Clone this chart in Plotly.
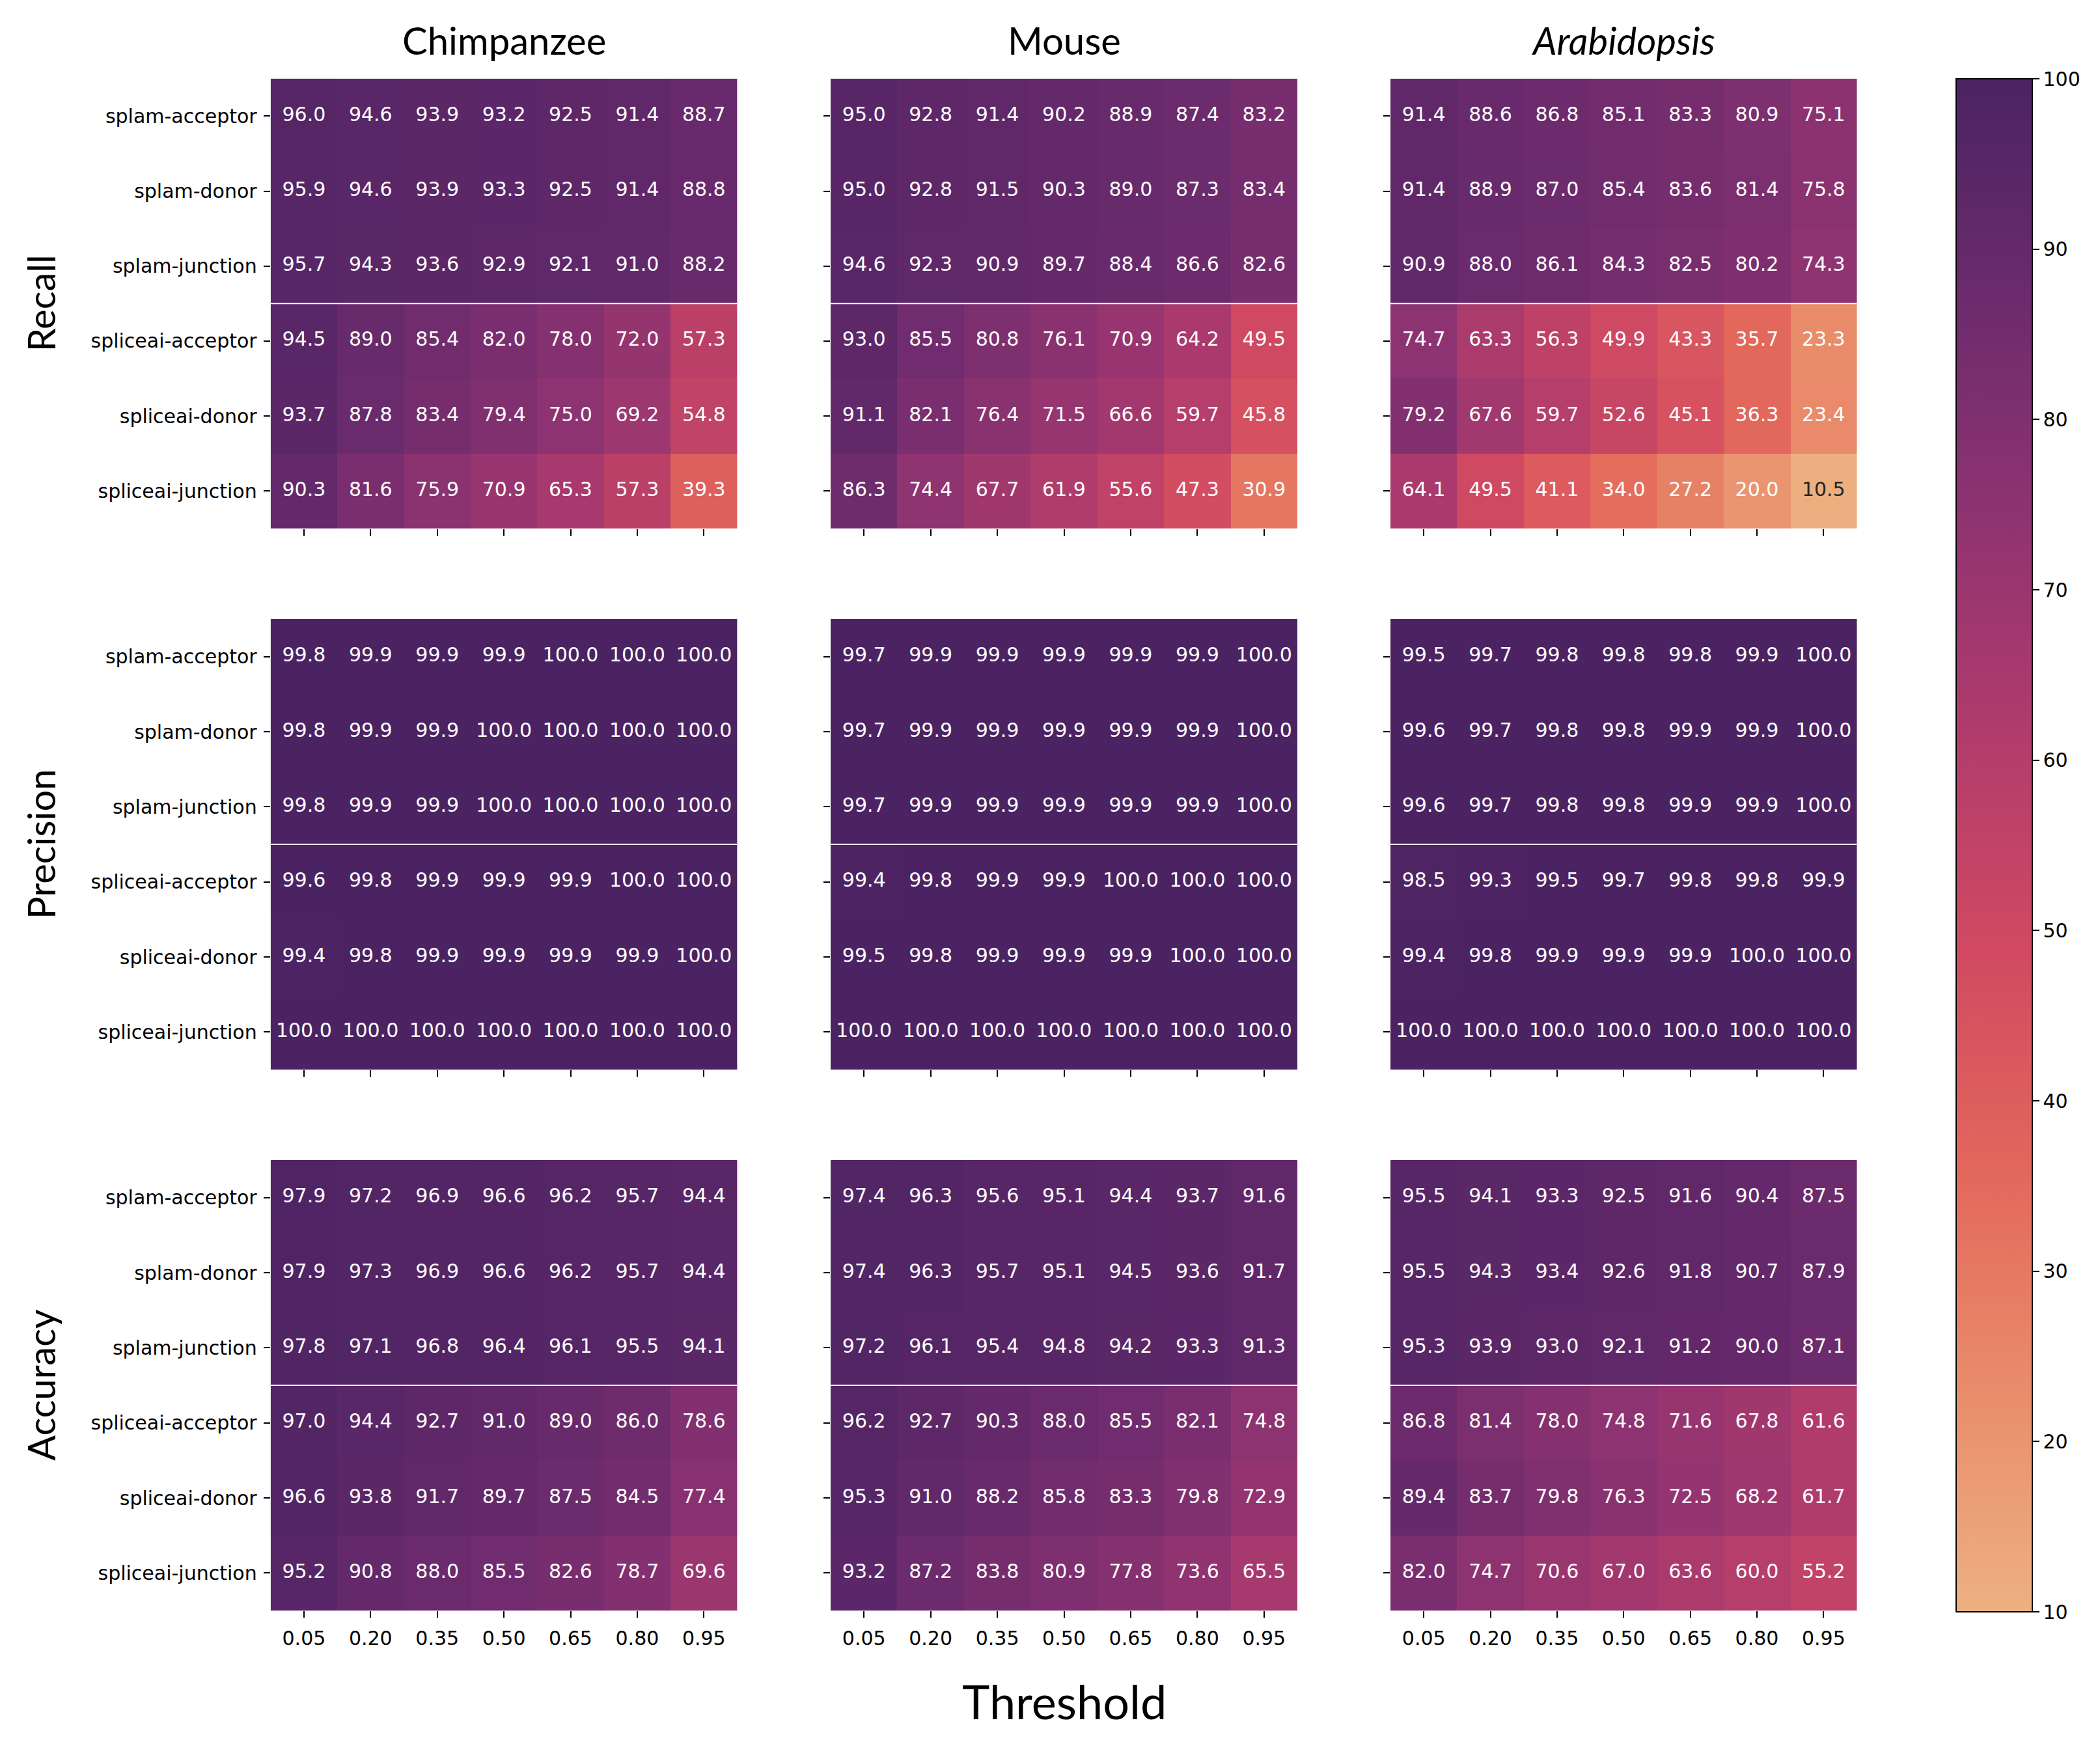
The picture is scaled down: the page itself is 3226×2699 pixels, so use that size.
import plotly.graph_objects as go

W, H = 3226, 2699

thresholds = ["0.05", "0.20", "0.35", "0.50", "0.65", "0.80", "0.95"]
row_labels = ["splam-acceptor", "splam-donor", "splam-junction",
              "spliceai-acceptor", "spliceai-donor", "spliceai-junction"]
species = ["Chimpanzee", "Mouse", "Arabidopsis"]
metrics = ["Recall", "Precision", "Accuracy"]

recall_chimpanzee = [
    [96.0, 94.6, 93.9, 93.2, 92.5, 91.4, 88.7],
    [95.9, 94.6, 93.9, 93.3, 92.5, 91.4, 88.8],
    [95.7, 94.3, 93.6, 92.9, 92.1, 91.0, 88.2],
    [94.5, 89.0, 85.4, 82.0, 78.0, 72.0, 57.3],
    [93.7, 87.8, 83.4, 79.4, 75.0, 69.2, 54.8],
    [90.3, 81.6, 75.9, 70.9, 65.3, 57.3, 39.3],
]
recall_mouse = [
    [95.0, 92.8, 91.4, 90.2, 88.9, 87.4, 83.2],
    [95.0, 92.8, 91.5, 90.3, 89.0, 87.3, 83.4],
    [94.6, 92.3, 90.9, 89.7, 88.4, 86.6, 82.6],
    [93.0, 85.5, 80.8, 76.1, 70.9, 64.2, 49.5],
    [91.1, 82.1, 76.4, 71.5, 66.6, 59.7, 45.8],
    [86.3, 74.4, 67.7, 61.9, 55.6, 47.3, 30.9],
]
recall_arabidopsis = [
    [91.4, 88.6, 86.8, 85.1, 83.3, 80.9, 75.1],
    [91.4, 88.9, 87.0, 85.4, 83.6, 81.4, 75.8],
    [90.9, 88.0, 86.1, 84.3, 82.5, 80.2, 74.3],
    [74.7, 63.3, 56.3, 49.9, 43.3, 35.7, 23.3],
    [79.2, 67.6, 59.7, 52.6, 45.1, 36.3, 23.4],
    [64.1, 49.5, 41.1, 34.0, 27.2, 20.0, 10.5],
]
precision_chimpanzee = [
    [99.8, 99.9, 99.9, 99.9, 100.0, 100.0, 100.0],
    [99.8, 99.9, 99.9, 100.0, 100.0, 100.0, 100.0],
    [99.8, 99.9, 99.9, 100.0, 100.0, 100.0, 100.0],
    [99.6, 99.8, 99.9, 99.9, 99.9, 100.0, 100.0],
    [99.4, 99.8, 99.9, 99.9, 99.9, 99.9, 100.0],
    [100.0, 100.0, 100.0, 100.0, 100.0, 100.0, 100.0],
]
precision_mouse = [
    [99.7, 99.9, 99.9, 99.9, 99.9, 99.9, 100.0],
    [99.7, 99.9, 99.9, 99.9, 99.9, 99.9, 100.0],
    [99.7, 99.9, 99.9, 99.9, 99.9, 99.9, 100.0],
    [99.4, 99.8, 99.9, 99.9, 100.0, 100.0, 100.0],
    [99.5, 99.8, 99.9, 99.9, 99.9, 100.0, 100.0],
    [100.0, 100.0, 100.0, 100.0, 100.0, 100.0, 100.0],
]
precision_arabidopsis = [
    [99.5, 99.7, 99.8, 99.8, 99.8, 99.9, 100.0],
    [99.6, 99.7, 99.8, 99.8, 99.9, 99.9, 100.0],
    [99.6, 99.7, 99.8, 99.8, 99.9, 99.9, 100.0],
    [98.5, 99.3, 99.5, 99.7, 99.8, 99.8, 99.9],
    [99.4, 99.8, 99.9, 99.9, 99.9, 100.0, 100.0],
    [100.0, 100.0, 100.0, 100.0, 100.0, 100.0, 100.0],
]
accuracy_chimpanzee = [
    [97.9, 97.2, 96.9, 96.6, 96.2, 95.7, 94.4],
    [97.9, 97.3, 96.9, 96.6, 96.2, 95.7, 94.4],
    [97.8, 97.1, 96.8, 96.4, 96.1, 95.5, 94.1],
    [97.0, 94.4, 92.7, 91.0, 89.0, 86.0, 78.6],
    [96.6, 93.8, 91.7, 89.7, 87.5, 84.5, 77.4],
    [95.2, 90.8, 88.0, 85.5, 82.6, 78.7, 69.6],
]
accuracy_mouse = [
    [97.4, 96.3, 95.6, 95.1, 94.4, 93.7, 91.6],
    [97.4, 96.3, 95.7, 95.1, 94.5, 93.6, 91.7],
    [97.2, 96.1, 95.4, 94.8, 94.2, 93.3, 91.3],
    [96.2, 92.7, 90.3, 88.0, 85.5, 82.1, 74.8],
    [95.3, 91.0, 88.2, 85.8, 83.3, 79.8, 72.9],
    [93.2, 87.2, 83.8, 80.9, 77.8, 73.6, 65.5],
]
accuracy_arabidopsis = [
    [95.5, 94.1, 93.3, 92.5, 91.6, 90.4, 87.5],
    [95.5, 94.3, 93.4, 92.6, 91.8, 90.7, 87.9],
    [95.3, 93.9, 93.0, 92.1, 91.2, 90.0, 87.1],
    [86.8, 81.4, 78.0, 74.8, 71.6, 67.8, 61.6],
    [89.4, 83.7, 79.8, 76.3, 72.5, 68.2, 61.7],
    [82.0, 74.7, 70.6, 67.0, 63.6, 60.0, 55.2],
]

panels = [
    [recall_chimpanzee, recall_mouse, recall_arabidopsis],
    [precision_chimpanzee, precision_mouse, precision_arabidopsis],
    [accuracy_chimpanzee, accuracy_mouse, accuracy_arabidopsis],
]

ZMIN, ZMAX = 10, 100
flare_hex = ["#EDB081", "#E98D6B", "#E3685C", "#D14A61",
             "#B13C6C", "#8F3371", "#6C2B6D", "#4B2362"]
flare_pos = [0, 1/7, 2/7, 3/7, 4/7, 5/7, 6/7, 1]
colorscale = [[p, c] for p, c in zip(flare_pos, flare_hex)]


def hex_rgb(h):
    h = h.lstrip("#")
    return [int(h[i:i + 2], 16) / 255 for i in (0, 2, 4)]


def cmap(v):
    t = min(max((v - ZMIN) / (ZMAX - ZMIN), 0), 1)
    for k in range(len(flare_pos) - 1):
        if flare_pos[k] <= t <= flare_pos[k + 1]:
            f = (t - flare_pos[k]) / (flare_pos[k + 1] - flare_pos[k])
            a, b = hex_rgb(flare_hex[k]), hex_rgb(flare_hex[k + 1])
            return [a[i] + (b[i] - a[i]) * f for i in range(3)]
    return hex_rgb(flare_hex[-1])


def luminance(rgb):
    lin = [c / 12.92 if c <= 0.03928 else ((c + 0.055) / 1.055) ** 2.4 for c in rgb]
    return 0.2126 * lin[0] + 0.7152 * lin[1] + 0.0722 * lin[2]


col_px = [(415.7, 1132.5), (1276, 1993), (2136, 2852.5)]
row_px = [(120.7, 812), (951, 1643), (1782, 2474)]

fig = go.Figure()
layout = dict(width=W, height=H, margin=dict(l=0, r=0, t=0, b=0),
              paper_bgcolor="white", plot_bgcolor="white", showlegend=False)
shapes = []
annotations = []
tickfont = dict(family="DejaVu Sans", size=30, color="black")

k = 0
for r in range(3):
    for c in range(3):
        k += 1
        suffix = "" if k == 1 else str(k)
        z = panels[r][c]
        fig.add_trace(go.Heatmap(z=z, x=thresholds, y=row_labels,
                                 coloraxis="coloraxis", hoverinfo="skip",
                                 xaxis="x" + suffix, yaxis="y" + suffix))
        xs, ys, txt, cols = [], [], [], []
        for i, row in enumerate(z):
            for j, v in enumerate(row):
                xs.append(thresholds[j])
                ys.append(row_labels[i])
                txt.append(f"{v:.1f}")
                cols.append("#262626" if luminance(cmap(v)) > 0.408 else "white")
        fig.add_trace(go.Scatter(x=xs, y=ys, text=txt, mode="text",
                                 textposition="middle center",
                                 textfont=dict(family="DejaVu Sans", size=30, color=cols),
                                 hoverinfo="skip", xaxis="x" + suffix, yaxis="y" + suffix))
        x0, x1 = col_px[c]
        y0, y1 = row_px[r]
        layout["xaxis" + suffix] = dict(
            domain=[x0 / W, x1 / W], anchor="y" + suffix, type="category",
            range=[-0.5, 6.5], showgrid=False, zeroline=False, showline=False,
            ticks="outside", ticklen=10, tickwidth=2, tickcolor="black",
            showticklabels=(r == 2), tickfont=tickfont, ticklabelstandoff=6)
        layout["yaxis" + suffix] = dict(
            domain=[1 - y1 / H, 1 - y0 / H], anchor="x" + suffix, type="category",
            range=[5.5, -0.5], showgrid=False, zeroline=False, showline=False,
            ticks="outside", ticklen=10, tickwidth=2, tickcolor="black",
            showticklabels=(c == 0), tickfont=tickfont, ticklabelstandoff=4)
        shapes.append(dict(type="line", xref="x" + suffix, yref="y" + suffix,
                           x0=-0.5, x1=6.5, y0=2.5, y1=2.5,
                           line=dict(color="white", width=2)))

title_font = dict(family="Lato", size=58, color="black")
for c, name in enumerate(species):
    x0, x1 = col_px[c]
    label = "<i>Arabidopsis</i>" if name == "Arabidopsis" else name
    annotations.append(dict(text=label, xref="paper", yref="paper",
                            x=(x0 + x1) / 2 / W, y=1 - 62 / H,
                            xanchor="center", yanchor="middle",
                            showarrow=False, font=title_font))
for r, name in enumerate(metrics):
    y0, y1 = row_px[r]
    annotations.append(dict(text=name, xref="paper", yref="paper",
                            x=62 / W, y=1 - (y0 + y1) / 2 / H,
                            xanchor="center", yanchor="middle", textangle=-90,
                            showarrow=False, font=title_font))
annotations.append(dict(text="Threshold", xref="paper", yref="paper",
                        x=(1276 + 1993) / 2 / W, y=1 - 2613 / H,
                        xanchor="center", yanchor="middle",
                        showarrow=False, font=dict(family="Lato", size=72, color="black")))

layout["coloraxis"] = dict(
    cmin=ZMIN, cmax=ZMAX, colorscale=colorscale,
    colorbar=dict(thicknessmode="pixels", thickness=117,
                  lenmode="pixels", len=2355,
                  x=3005 / W, xanchor="left", xref="paper",
                  y=1 - 121 / H, yanchor="top", yref="paper",
                  xpad=0, ypad=0, outlinewidth=2, outlinecolor="black",
                  ticks="outside", ticklen=10, tickwidth=2, tickcolor="black",
                  tickvals=[10, 20, 30, 40, 50, 60, 70, 80, 90, 100],
                  tickfont=tickfont))
layout["shapes"] = shapes
layout["annotations"] = annotations
fig.update_layout(**layout)

fig.write_html("out.html",
               config={"displayModeBar": False},
               post_script="document.body.style.margin='0px';document.body.style.overflow='hidden';")
